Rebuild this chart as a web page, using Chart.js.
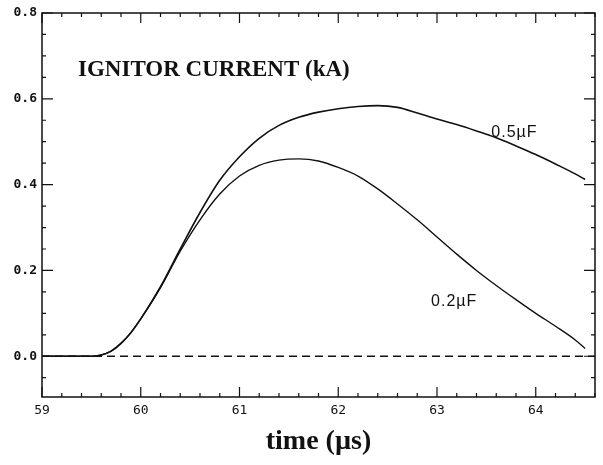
<!DOCTYPE html>
<html>
<head>
<meta charset="utf-8">
<script src="https://cdn.jsdelivr.net/npm/chart.js@4.4.1/dist/chart.umd.min.js"></script>
<style>
    html, body { margin: 0; padding: 0; background: #fff; }
</style>
</head>
<body>
<canvas id="ignitorChart" width="603" height="465"></canvas>
<script>
// time axis (µs) and ignitor current (kA)
const timeUs = [59.0, 59.5, 59.6, 59.7, 59.8, 59.9, 60.0, 60.2, 60.4, 60.6, 60.8, 61.0, 61.2, 61.4, 61.6,
    61.8, 62.0, 62.2, 62.4, 62.6, 62.8, 63.0, 63.2, 63.4, 63.6, 63.8, 64.0, 64.2, 64.4, 64.5];
const current05uF = [0, 0, 0.003, 0.012, 0.03, 0.055, 0.087, 0.162, 0.25, 0.335, 0.41, 0.465, 0.508, 0.538, 0.557,
    0.569, 0.577, 0.582, 0.584, 0.58, 0.567, 0.553, 0.54, 0.525, 0.509, 0.49, 0.47, 0.448, 0.425, 0.412];
const current02uF = [0, 0, 0.003, 0.012, 0.03, 0.055, 0.087, 0.16, 0.245, 0.318, 0.378, 0.42, 0.445, 0.457, 0.46,
    0.455, 0.44, 0.42, 0.39, 0.355, 0.318, 0.278, 0.238, 0.2, 0.165, 0.132, 0.1, 0.07, 0.038, 0.018];
const seriesLabels = ['0.5µF', '0.2µF'];

const xRange = [59, 64.6];
const yRange = [-0.095, 0.8];
const xMajorTicks = [59, 60, 61, 62, 63, 64];
const yMajorTicks = [0.0, 0.2, 0.4, 0.6, 0.8];
const xMinorStep = 0.2;
const yMinorStep = 0.05;

const isMajor = (list, v) => list.some(m => Math.abs(m - v) < 1e-6);

function stepTicks(from, to, step) {
    const out = [];
    const n = Math.floor((to - from) / step + 1e-6);
    for (let i = 0; i <= n; i++) out.push({ value: Math.round((from + i * step) * 1e6) / 1e6 });
    return out;
}

// cadre + graduations vers l'intérieur, sur les 4 côtés
const frameTicks = {
    id: 'frameTicks',
    afterDraw(chart) {
        const { ctx, chartArea: a, scales: { x, y } } = chart;
        ctx.save();
        ctx.strokeStyle = '#111';
        ctx.lineWidth = 1.5;
        ctx.strokeRect(a.left, a.top, a.right - a.left, a.bottom - a.top);
        ctx.lineWidth = 1.2;
        ctx.beginPath();
        x.ticks.forEach(t => {
            const px = x.getPixelForValue(t.value);
            const len = isMajor(xMajorTicks, t.value) ? 10 : 4;
            ctx.moveTo(px, a.bottom); ctx.lineTo(px, a.bottom - len);
            ctx.moveTo(px, a.top); ctx.lineTo(px, a.top + len);
        });
        y.ticks.forEach(t => {
            const py = y.getPixelForValue(t.value);
            const len = isMajor(yMajorTicks, t.value) ? 11 : 4;
            ctx.moveTo(a.left, py); ctx.lineTo(a.left + len, py);
            ctx.moveTo(a.right, py); ctx.lineTo(a.right - len, py);
        });
        ctx.stroke();

        // titre dans le cadre
        ctx.fillStyle = '#111';
        ctx.textBaseline = 'alphabetic';
        ctx.font = 'bold 23px "Liberation Serif", serif';
        ctx.fillText('IGNITOR CURRENT (kA)', a.left + 36, 76);

        // étiquettes des courbes
        ctx.font = '16px "Liberation Sans", sans-serif';
        ctx.letterSpacing = '1px';
        ctx.fillText(seriesLabels[0], x.getPixelForValue(63.55), y.getPixelForValue(0.51));
        ctx.fillText(seriesLabels[1], x.getPixelForValue(62.94), y.getPixelForValue(0.116));
        ctx.restore();
    }
};

const ctx = document.getElementById('ignitorChart').getContext('2d');
new Chart(ctx, {
    type: 'line',
    data: {
        datasets: [
            {
                label: seriesLabels[0],
                data: timeUs.map((t, i) => ({ x: t, y: current05uF[i] })),
                borderColor: '#111',
                borderWidth: 1.6,
                pointRadius: 0,
                cubicInterpolationMode: 'monotone'
            },
            {
                label: seriesLabels[1],
                data: timeUs.map((t, i) => ({ x: t, y: current02uF[i] })),
                borderColor: '#111',
                borderWidth: 1.4,
                pointRadius: 0,
                cubicInterpolationMode: 'monotone'
            },
            {
                label: 'zero',
                data: xRange.map(t => ({ x: t, y: 0 })),
                borderColor: '#111',
                borderWidth: 1.3,
                borderDash: [8, 5],
                pointRadius: 0
            }
        ]
    },
    options: {
        responsive: false,
        animation: false,
        layout: { padding: { top: 13, right: 8, left: 0, bottom: 0 } },
        plugins: {
            legend: { display: false },
            tooltip: { enabled: false }
        },
        scales: {
            x: {
                type: 'linear',
                min: xRange[0],
                max: xRange[1],
                afterBuildTicks: s => { s.ticks = stepTicks(xRange[0], xRange[1], xMinorStep); },
                afterFit: s => { s.height = 68; },
                grid: { display: false, drawTicks: false },
                border: { display: false },
                ticks: {
                    autoSkip: false,
                    maxRotation: 0,
                    padding: 6,
                    color: '#111',
                    font: { family: 'DejaVu Sans Mono', size: 13 },
                    callback: v => isMajor(xMajorTicks, v) ? String(Math.round(v)) : ''
                },
                title: {
                    display: true,
                    text: 'time (µs)',
                    color: '#111',
                    font: { family: 'Liberation Serif', size: 28, weight: 'bold' },
                    padding: { top: 0, bottom: 6 }
                }
            },
            y: {
                min: yRange[0],
                max: yRange[1],
                afterBuildTicks: s => { s.ticks = stepTicks(-0.05, yRange[1], yMinorStep); },
                afterFit: s => { s.width = 42; },
                grid: { display: false, drawTicks: false },
                border: { display: false },
                ticks: {
                    autoSkip: false,
                    padding: 5,
                    color: '#111',
                    font: { family: 'DejaVu Sans Mono', size: 13, weight: 'bold' },
                    callback: v => isMajor(yMajorTicks, v) ? v.toFixed(1) : ''
                }
            }
        }
    },
    plugins: [frameTicks]
});
</script>
</body>
</html>
